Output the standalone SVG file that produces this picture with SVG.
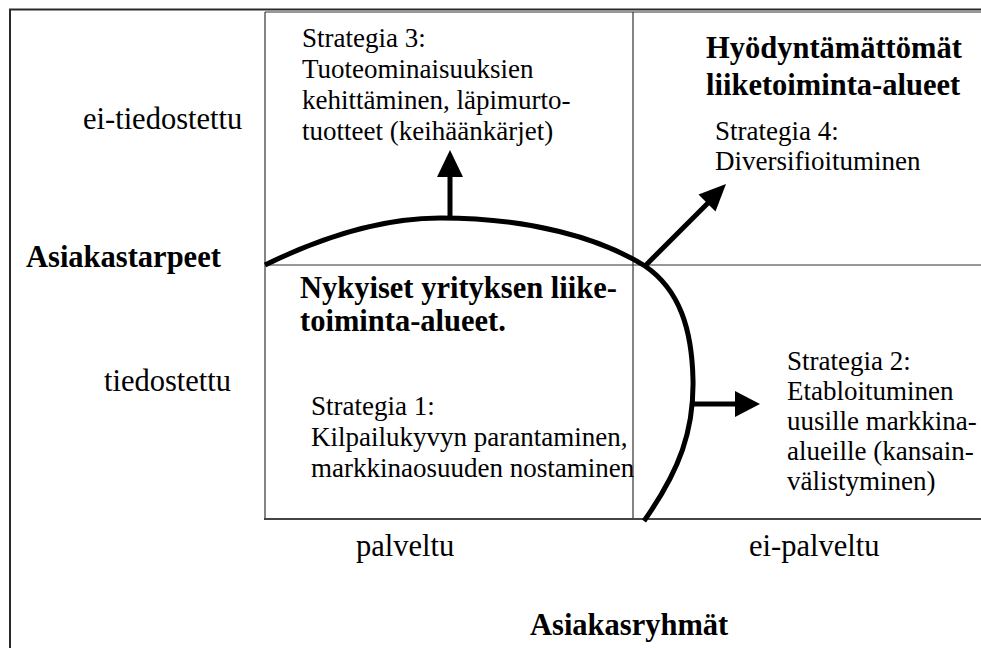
<svg xmlns="http://www.w3.org/2000/svg" width="981" height="648" viewBox="0 0 981 648">
  <style>
    .frame { fill: none; stroke: #2a2a2a; stroke-width: 2; }
    .grid { fill: none; stroke: #333; stroke-width: 1.2; }
    .gridb { fill: none; stroke: #444; stroke-width: 2; }
    .curve { fill: none; stroke: #000; stroke-width: 5; }
    .shaft { fill: none; stroke: #000; stroke-width: 5; }
    .head { fill: #000; stroke: none; }
    .lbl { font-size: 30.5px; fill: #000; }
    .lblb { font-size: 30.5px; font-weight: bold; fill: #000; }
    .txt { font-size: 27px; fill: #000; }
  </style>

  <!-- outer frame, running off the right and bottom edges -->
  <rect class="frame" x="10" y="9.5" width="1000" height="700"/>

  <!-- 2x2 matrix grid -->
  <g id="grid">
    <line class="grid" x1="265" y1="12" x2="981" y2="12"/>
    <line class="grid" x1="265" y1="12" x2="265" y2="519"/>
    <line class="grid" x1="633" y1="12" x2="633" y2="519"/>
    <line class="grid" x1="265" y1="265" x2="981" y2="265"/>
    <line class="gridb" x1="264" y1="519" x2="981" y2="519"/>
  </g>

  <g font-family="'Liberation Serif', Tinos, 'Times New Roman', 'Noto Serif', 'DejaVu Serif', serif">
    <!-- axis labels -->
    <g id="axis-needs">
      <text class="lbl" x="83" y="129">ei-tiedostettu</text>
      <text class="lblb" x="26" y="267">Asiakastarpeet</text>
      <text class="lbl" x="104" y="391">tiedostettu</text>
    </g>
    <g id="axis-groups">
      <text class="lbl" x="356" y="556">palveltu</text>
      <text class="lbl" x="749" y="556">ei-palveltu</text>
      <text class="lblb" x="530" y="635">Asiakasryhmät</text>
    </g>

    <!-- quadrant texts -->
    <g id="strategy3">
      <text class="txt" x="302" y="47">Strategia 3:</text>
      <text class="txt" x="302" y="78">Tuoteominaisuuksien</text>
      <text class="txt" x="302" y="109">kehittäminen, läpimurto-</text>
      <text class="txt" x="302" y="140">tuotteet (keihäänkärjet)</text>
    </g>
    <g id="unused-areas">
      <text class="lblb" x="706" y="58">Hyödyntämättömät</text>
      <text class="lblb" x="706" y="95">liiketoiminta-alueet</text>
    </g>
    <g id="strategy4">
      <text class="txt" x="715" y="140">Strategia 4:</text>
      <text class="txt" x="715" y="170">Diversifioituminen</text>
    </g>
    <g id="current-areas">
      <text class="lblb" x="300" y="298">Nykyiset yrityksen liike-</text>
      <text class="lblb" x="300" y="331">toiminta-alueet.</text>
    </g>
    <g id="strategy1">
      <text class="txt" x="311" y="415">Strategia 1:</text>
      <text class="txt" x="311" y="446">Kilpailukyvyn parantaminen,</text>
      <text class="txt" x="311" y="477">markkinaosuuden nostaminen</text>
    </g>
    <g id="strategy2">
      <text class="txt" x="787" y="370">Strategia 2:</text>
      <text class="txt" x="787" y="400">Etabloituminen</text>
      <text class="txt" x="787" y="430">uusille markkina-</text>
      <text class="txt" x="787" y="460">alueille (kansain-</text>
      <text class="txt" x="787" y="490">välistyminen)</text>
    </g>
  </g>

  <!-- boundary of the current business and the growth arrows -->
  <g id="connectors">
    <path class="curve" d="M265,265 C320,238 380,218 440,218 C530,218 600,238 645,266 C680,290 692,330 693,380 C694,430 680,470 644,521"/>
    <line class="shaft" x1="450" y1="220" x2="450" y2="176"/>
    <polygon class="head" points="437,177 463,177 450,150"/>
    <line class="shaft" x1="645" y1="266" x2="708" y2="203"/>
    <polygon class="head" points="715.5,211.5 698.5,194.5 726,184"/>
    <line class="shaft" x1="690" y1="404" x2="737" y2="404"/>
    <polygon class="head" points="735,391 735,417 760,404"/>
  </g>
</svg>
